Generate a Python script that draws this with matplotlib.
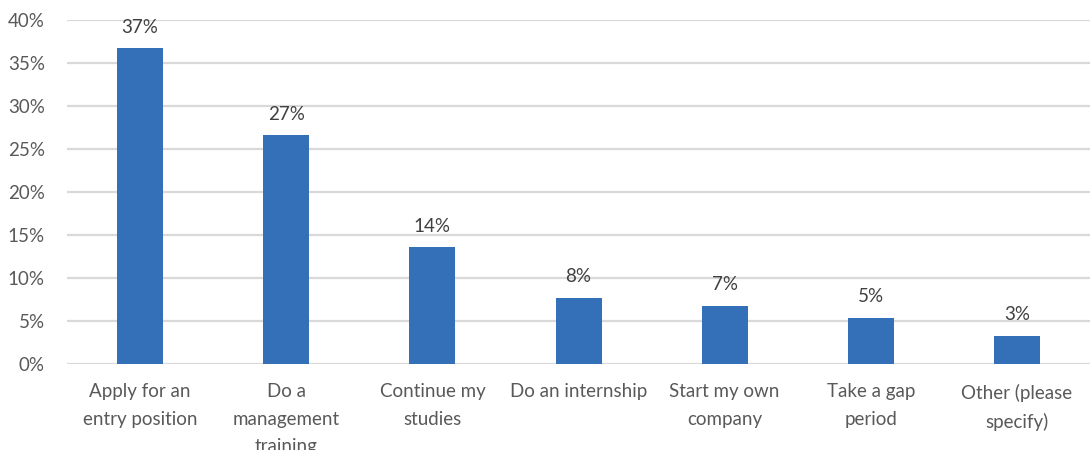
import matplotlib.pyplot as plt
from matplotlib.ticker import FuncFormatter

categories = ['Apply for an\nentry position', 'Do a\nmanagement\ntraining', 'Continue my\nstudies',
              'Do an internship', 'Start my own\ncompany', 'Take a gap\nperiod', 'Other (please\nspecify)']
shares = [36.7, 26.6, 13.6, 7.7, 6.8, 5.4, 3.3]
y_ticks = [0, 5, 10, 15, 20, 25, 30, 35, 40]

plt.rcParams['font.family'] = ['Lato', 'DejaVu Sans']

fig = plt.figure(figsize=(10.9, 4.5), dpi=100)
ax = fig.add_axes([0.0615, 0.191, 0.9385, 0.765])

x = range(len(categories))
bars = ax.bar(x, shares, width=0.315, color='#3370b8', zorder=3)

for b, v in zip(bars, shares):
    ax.annotate(f'{v:.0f}%', (b.get_x() + b.get_width() / 2, v), xytext=(0, 9),
                textcoords='offset points', ha='center', va='bottom',
                fontsize=13.5, color='#404040')

ax.set_xlim(-0.5, len(categories) - 0.5)
ax.set_ylim(0, 40)
ax.set_yticks(y_ticks)
ax.yaxis.set_major_formatter(FuncFormatter(lambda v, p: f'{v:.0f}%'))
ax.set_xticks(list(x))
ax.set_xticklabels(categories, linespacing=1.75, va='top')
ax.tick_params(axis='both', length=0, labelsize=13.5, labelcolor='#595959')
ax.tick_params(axis='x', pad=14)
ax.tick_params(axis='y', pad=16)

ax.grid(axis='y', color='#d9d9d9', linewidth=1.6, zorder=0)
for s in ax.spines.values():
    s.set_visible(False)

fig.savefig('out.png', dpi=100)
